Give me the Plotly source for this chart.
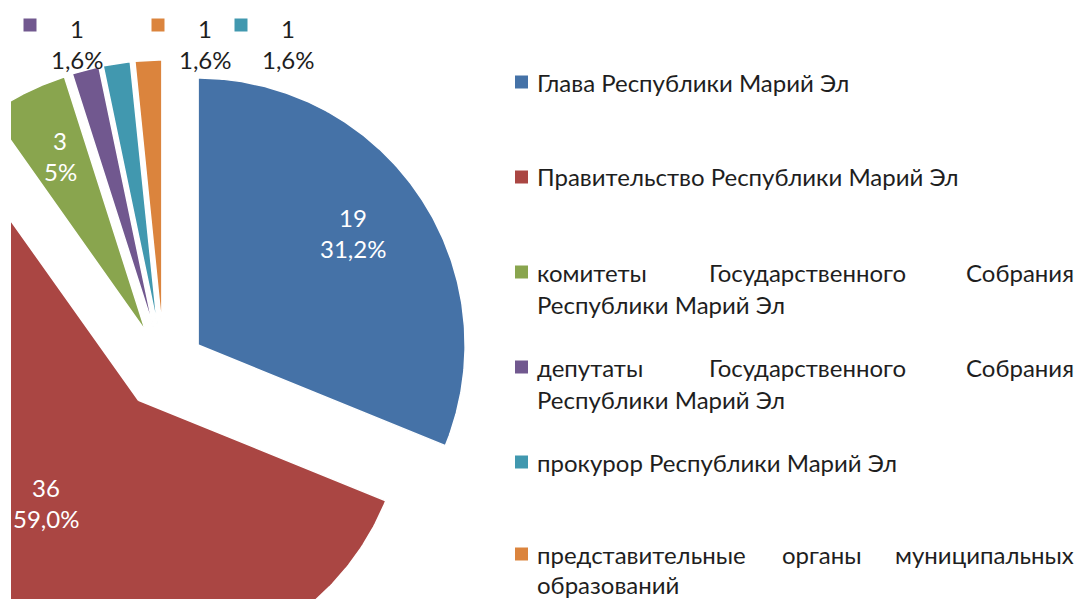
import numpy as np
import plotly.graph_objects as go

# ---------------- data ----------------
categories = [
    "Глава Республики Марий Эл",
    "Правительство Республики Марий Эл",
    "комитеты Государственного Собрания Республики Марий Эл",
    "депутаты Государственного Собрания Республики Марий Эл",
    "прокурор Республики Марий Эл",
    "представительные органы муниципальных образований",
]
values = [19, 36, 3, 1, 1, 1]
pct_labels = ["31,2%", "59,0%", "5%", "1,6%", "1,6%", "1,6%"]
colors = ["#4572A7", "#AA4643", "#89A54E", "#71588F", "#4198AF", "#DB843D"]

# legend lines (justified text emulated with word pieces)
legend_lines = [
    [[("Глава Республики Марий Эл", "left")]],
    [[("Правительство Республики Марий Эл", "left")]],
    [[("комитеты", "left"), ("Государственного", "center"), ("Собрания", "right")],
     [("Республики Марий Эл", "left")]],
    [[("депутаты", "left"), ("Государственного", "center"), ("Собрания", "right")],
     [("Республики Марий Эл", "left")]],
    [[("прокурор Республики Марий Эл", "left")]],
    [[("представительные", "left"), ("органы", "center"), ("муниципальных", "right")],
     [("образований", "left")]],
]

# ---------------- layout constants (pixels) ----------------
W, H = 1080, 599
LEFT = 11              # white strip on the left (clip edge of the pie)
CX, CY = 164, 368      # pie centre
R = 267                # pie radius
EXPLODE = 0.154        # explosion as fraction of radius
FONT = "Lato, 'Open Sans', sans-serif"
FS = 24
TXT = "#1e1e1e"

legend_y = [82, 177, 272, 367, 462, 554]
legend_gap = [32, 32, 32, 32, 32, 30]
legend_center_x = {2: 807, 3: 807, 5: 822}

label_frac = [0.714, 0.52, 0.727]
label_shift = [-1.7, 3.6, 0.4]
outside_label_x = {3: 77, 4: 288, 5: 205}
outside_y = (28, 59)


def px(x):
    return (x - LEFT) / (W - LEFT)


def py(y):
    return 1 - y / H


fig = go.Figure()
total = float(sum(values))
start = 0.0
annotations = []
shapes = []
for i, (cat, v, c) in enumerate(zip(categories, values, colors)):
    span = 360.0 * v / total
    a0, a1 = start, start + span
    mid = (a0 + a1) / 2
    start = a1
    m = np.radians(mid)
    ox, oy = EXPLODE * np.sin(m), EXPLODE * np.cos(m)
    t = np.radians(np.linspace(a0, a1, 240))
    xs = np.concatenate([[ox], ox + np.sin(t), [ox]])
    ys = np.concatenate([[oy], oy + np.cos(t), [oy]])
    fig.add_trace(go.Scatter(
        x=xs, y=ys, mode="lines", fill="toself", fillcolor=c,
        line=dict(color="white", width=1.5), name=cat,
        hoverinfo="text", text=f"{cat}: {v} ({pct_labels[i]})",
        showlegend=False,
    ))
    if i < 3:
        la = np.radians(mid + label_shift[i])
        lx = ox + label_frac[i] * np.sin(la)
        ly = oy + label_frac[i] * np.cos(la)
        for txt, ys_ in ((str(v), 16), (pct_labels[i], -15)):
            annotations.append(dict(x=lx, y=ly, xref="x", yref="y", text=txt,
                                    xanchor="center", yanchor="middle",
                                    showarrow=False, yshift=ys_,
                                    font=dict(family=FONT, size=FS, color="white")))
    else:
        lx = outside_label_x[i]
        for txt, yy in ((str(v), outside_y[0]), (pct_labels[i], outside_y[1])):
            annotations.append(dict(x=px(lx), y=py(yy), xref="paper", yref="paper",
                                    xanchor="center", yanchor="middle",
                                    text=txt, showarrow=False,
                                    font=dict(family=FONT, size=FS, color=TXT)))
        sx, sy = lx - 47, 25
        shapes.append(dict(type="rect", xref="paper", yref="paper",
                           x0=px(sx - 6.5), x1=px(sx + 6.5), y0=py(sy + 6.5),
                           y1=py(sy - 6.5), fillcolor=c, line=dict(width=0)))

# legend
for i, c in enumerate(colors):
    y0 = legend_y[i]
    shapes.append(dict(type="rect", xref="paper", yref="paper",
                       x0=px(515), x1=px(528), y0=py(y0 + 6.5), y1=py(y0 - 6.5),
                       fillcolor=c, line=dict(width=0)))
    for j, line in enumerate(legend_lines[i]):
        yy = y0 + j * legend_gap[i]
        for word, pos in line:
            if pos == "left":
                xx, anchor = 535, "left"
            elif pos == "right":
                xx, anchor = 1076, "right"
            else:
                xx, anchor = legend_center_x[i], "center"
            annotations.append(dict(x=px(xx), y=py(yy), xref="paper", yref="paper",
                                    xanchor=anchor, yanchor="middle", text=word,
                                    showarrow=False,
                                    font=dict(family=FONT, size=FS, color=TXT)))

fig.update_layout(
    width=W, height=H,
    margin=dict(l=LEFT, r=0, t=0, b=0),
    paper_bgcolor="white", plot_bgcolor="white",
    xaxis=dict(range=[(LEFT - CX) / R, (W - CX) / R], visible=False, fixedrange=True),
    yaxis=dict(range=[-(H - CY) / R, CY / R], visible=False, fixedrange=True),
    annotations=annotations, shapes=shapes, showlegend=False,
)

fig.write_html("out.html", config={"displayModeBar": False},
               post_script="document.body.style.margin='0px';"
                           "document.body.style.overflow='hidden';")
